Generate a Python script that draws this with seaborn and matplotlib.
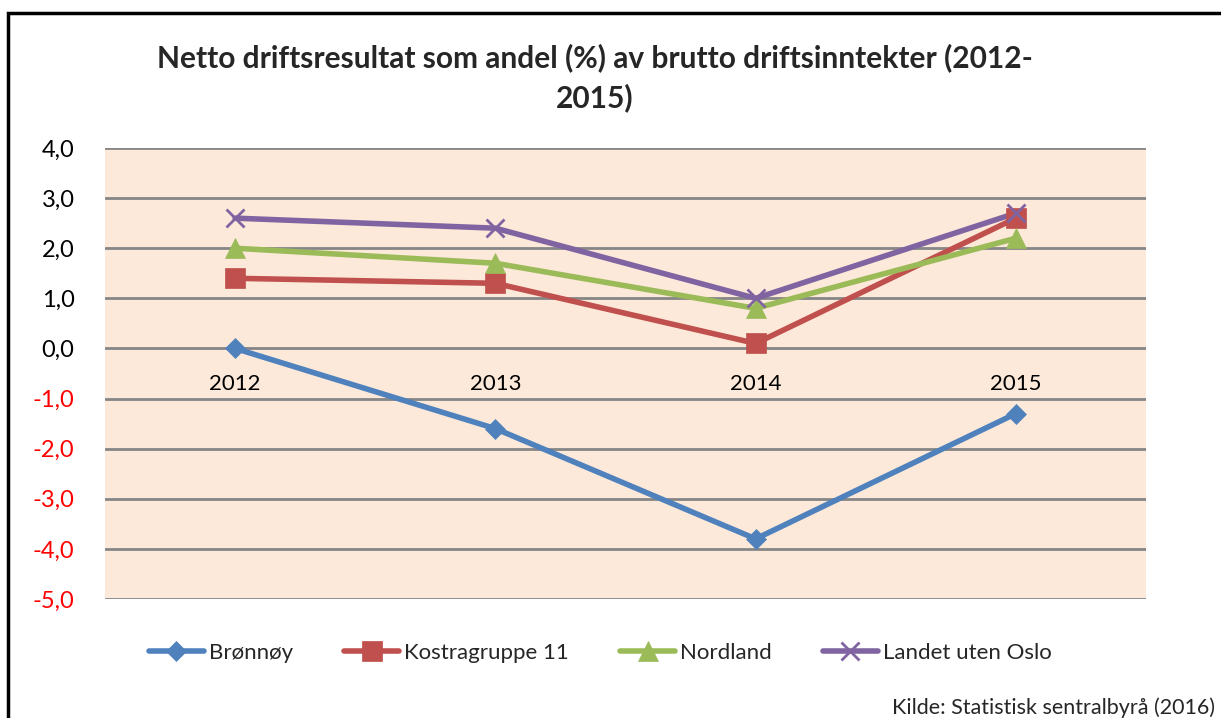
import matplotlib
matplotlib.use("Agg")
import matplotlib.pyplot as plt
from matplotlib.patches import Rectangle
import seaborn as sns
import pandas as pd

years = ["2012", "2013", "2014", "2015"]
bronnoy = [0.0, -1.6, -3.8, -1.3]
kostra11 = [1.4, 1.3, 0.1, 2.6]
nordland = [2.0, 1.7, 0.8, 2.2]
landet = [2.6, 2.4, 1.0, 2.7]
series_names = ["Brønnøy", "Kostragruppe 11", "Nordland", "Landet uten Oslo"]
yticks = [4.0, 3.0, 2.0, 1.0, 0.0, -1.0, -2.0, -3.0, -4.0, -5.0]

sns.set_theme(style="white")
plt.rcParams["font.family"] = ["Lato", "DejaVu Sans"]

df = pd.DataFrame({
    "year": years * 4,
    "value": bronnoy + kostra11 + nordland + landet,
    "serie": [n for n in series_names for _ in years],
})

colors = ["#4F81BD", "#C0504D", "#9BBB59", "#8064A2"]
markers = ["D", "s", "^", "x"]
msizes = [10, 14, 14, 13]

fig = plt.figure(figsize=(12.21, 7.18), dpi=100)
ax = fig.add_axes([105 / 1221, 1 - 599 / 718, 1041 / 1221, 451 / 718])
ax.set_facecolor("#FDE9D9")

sns.lineplot(data=df, x="year", y="value", hue="serie", style="serie",
             palette=colors, markers=False, dashes=False, ax=ax,
             linewidth=4, legend=False, sort=False)

for name, c, m, ms in zip(series_names, colors, markers, msizes):
    sub = df[df["serie"] == name]
    ax.plot(sub["year"], sub["value"], linestyle="none", marker=m, color=c,
            markersize=ms, markeredgewidth=2 if m == "x" else 0.5,
            markeredgecolor=c, zorder=5)

ax.set_xlim(-0.5, 3.5)
ax.set_ylim(-5.0, 4.0)
ax.set_yticks(yticks)
ax.set_yticklabels([f"{v:.1f}".replace(".", ",") for v in yticks], fontsize=17)
for lbl, v in zip(ax.get_yticklabels(), yticks):
    lbl.set_color("red" if v < 0 else "black")
ax.tick_params(axis="y", length=0, pad=22)
ax.grid(axis="y", color="#868686", linewidth=2)
ax.set_axisbelow(True)
for s in ax.spines.values():
    s.set_visible(False)
ax.set_xlabel("")
ax.set_ylabel("")

# category labels sit just below the zero line
ax.set_xticks(range(len(years)))
ax.set_xticklabels([])
ax.tick_params(axis="x", length=0)
for i, yr in enumerate(years):
    ax.text(i, -0.7, yr, ha="center", va="center", fontsize=16, color="black")

fig.text(595 / 1221, 1 - 78 / 718, "Netto driftsresultat som andel (%) av brutto driftsinntekter (2012-\n2015)",
         ha="center", va="center", fontsize=21.5, fontweight="bold", linespacing=1.45)

handles = [plt.Line2D([], [], color=c, marker=m, linewidth=4, markersize=ms,
                      markeredgewidth=2 if m == "x" else 0.5, markeredgecolor=c)
           for c, m, ms in zip(colors, markers, msizes)]
fig.legend(handles, series_names, loc="center", bbox_to_anchor=(600 / 1221, 1 - 653 / 718),
           ncol=4, frameon=False, fontsize=16, handlelength=2.5, columnspacing=2.3,
           handletextpad=0.2)

fig.text(892 / 1221, 1 - 708 / 718, "Kilde: Statistisk sentralbyrå (2016)", ha="left",
         va="center", fontsize=15.5)

fig.patches.append(Rectangle((8 / 1221, -0.1), 1.2, 1 - 13 / 718 + 0.1,
                             transform=fig.transFigure, fill=False,
                             edgecolor="black", linewidth=2.5))

fig.savefig("out.png", dpi=100)
